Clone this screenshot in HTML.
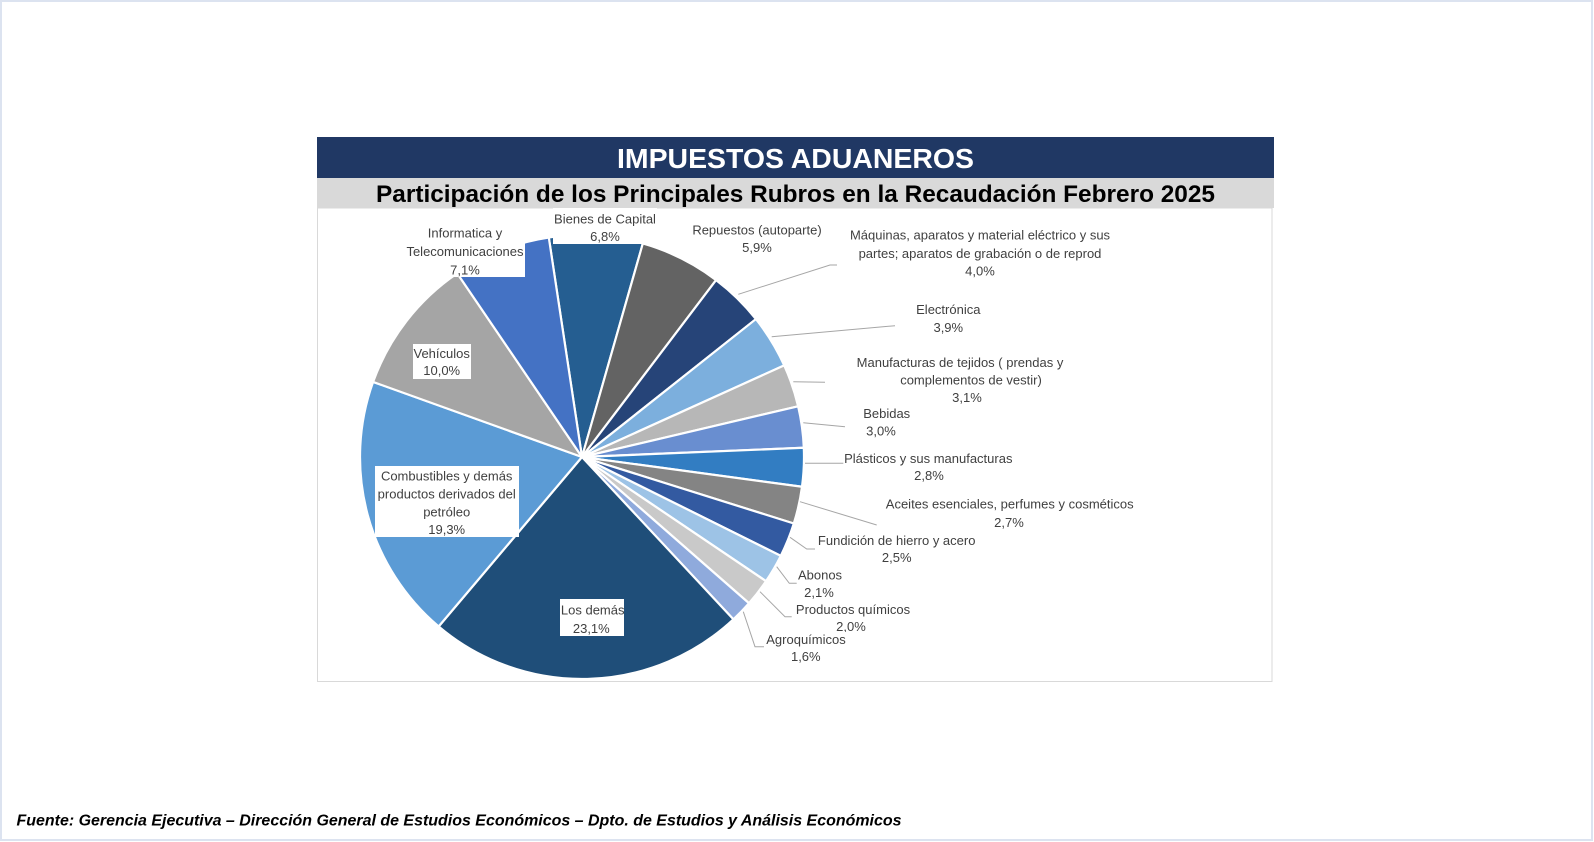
<!DOCTYPE html>
<html>
<head>
<meta charset="utf-8">
<style>
  html, body { margin:0; padding:0; background:#ffffff; }
  body { width:1594px; height:842px; overflow:hidden; }
  svg { display:block; }
  .lbl { font-family:"Liberation Sans", Arial, sans-serif; font-size:13px; fill:#404040; text-anchor:middle; }
</style>
</head>
<body>
<svg width="1594" height="842" viewBox="0 0 1594 842" xmlns="http://www.w3.org/2000/svg">
  <!-- page border -->
  <rect x="1" y="1" width="1591" height="839" fill="#ffffff" stroke="#dce3f0" stroke-width="2"/>

  <!-- header bars -->
  <rect x="317" y="137" width="957" height="41" fill="#203864"/>
  <rect x="317" y="178" width="957" height="30" fill="#d9d9d9"/>
  <text x="795.5" y="168" text-anchor="middle" font-family="'Liberation Sans', Arial, sans-serif" font-weight="bold" font-size="28" fill="#ffffff" textLength="357" lengthAdjust="spacingAndGlyphs">IMPUESTOS ADUANEROS</text>
  <text x="795.5" y="202" text-anchor="middle" font-family="'Liberation Sans', Arial, sans-serif" font-weight="bold" font-size="24" fill="#000000" textLength="839" lengthAdjust="spacingAndGlyphs">Participación de los Principales Rubros en la Recaudación Febrero 2025</text>

  <!-- chart area -->
  <rect x="317.5" y="208" width="954.5" height="473.5" fill="#ffffff" stroke="#d9d9d9" stroke-width="1"/>

  <!-- pie slices: center (582,457) r=222 -->
  <g stroke="#ffffff" stroke-width="2.2" stroke-linejoin="round">
    <path d="M582 457 L548.80 237.50 A222 222 0 0 1 642.82 243.49 Z" fill="#255e91"/>
    <path d="M582 457 L642.82 243.49 A222 222 0 0 1 716.09 280.07 Z" fill="#636363"/>
    <path d="M582 457 L716.09 280.07 A222 222 0 0 1 755.94 319.05 Z" fill="#264478"/>
    <path d="M582 457 L755.94 319.05 A222 222 0 0 1 784.22 365.39 Z" fill="#7cafdd"/>
    <path d="M582 457 L784.22 365.39 A222 222 0 0 1 798.13 406.31 Z" fill="#b7b7b7"/>
    <path d="M582 457 L798.13 406.31 A222 222 0 0 1 803.81 447.74 Z" fill="#698ed0"/>
    <path d="M582 457 L803.81 447.74 A222 222 0 0 1 802.00 486.75 Z" fill="#327dc2"/>
    <path d="M582 457 L802.00 486.75 A222 222 0 0 1 793.81 523.50 Z" fill="#848484"/>
    <path d="M582 457 L793.81 523.50 A222 222 0 0 1 780.79 555.84 Z" fill="#335aa1"/>
    <path d="M582 457 L780.79 555.84 A222 222 0 0 1 766.03 581.16 Z" fill="#9dc3e6"/>
    <path d="M582 457 L766.03 581.16 A222 222 0 0 1 749.02 603.25 Z" fill="#c9c9c9"/>
    <path d="M582 457 L749.02 603.25 A222 222 0 0 1 733.44 619.32 Z" fill="#8faadc"/>
    <path d="M582 457 L733.44 619.32 A222 222 0 0 1 438.64 626.51 Z" fill="#1f4e79"/>
    <path d="M582 457 L438.64 626.51 A222 222 0 0 1 373.09 381.91 Z" fill="#5b9bd5"/>
    <path d="M582 457 L373.09 381.91 A222 222 0 0 1 457.24 273.37 Z" fill="#a5a5a5"/>
    <path d="M582 457 L457.24 273.37 A222 222 0 0 1 548.80 237.50 Z" fill="#4472c4"/>
  </g>

  <!-- leader lines -->
  <g fill="none" stroke="#a6a6a6" stroke-width="1">
    <polyline points="738.3,294.3 830,265 837,265"/>
    <polyline points="771.7,336.7 895,325.7"/>
    <polyline points="793.3,381.7 825,382.3"/>
    <polyline points="803.3,422.7 845,426.7"/>
    <polyline points="805,463.3 843.3,463.3"/>
    <polyline points="800,501.7 876.7,525"/>
    <polyline points="790,537.3 806.7,549 815,549"/>
    <polyline points="776.7,566.7 789.3,583.3 796.7,583.3"/>
    <polyline points="760,591.7 785,616.7 791.7,616.7"/>
    <polyline points="743.3,611.7 755,646.7 765,646.7"/>
  </g>

  <!-- label boxes over pie -->
  <rect x="553" y="208" width="104" height="36" fill="#ffffff"/>
  <rect x="405" y="222" width="120" height="55" fill="#ffffff"/>
  <rect x="413" y="344" width="58" height="35" fill="#ffffff"/>
  <rect x="375" y="466" width="144" height="71" fill="#ffffff"/>
  <rect x="560" y="599" width="64" height="37" fill="#ffffff"/>

  <!-- labels -->
  <text class="lbl" x="605" y="223.5">Bienes de Capital</text>
  <text class="lbl" x="605" y="241.2">6,8%</text>

  <text class="lbl" x="757" y="234.5">Repuestos (autoparte)</text>
  <text class="lbl" x="757" y="252.2">5,9%</text>

  <text class="lbl" x="980" y="239.5">Máquinas, aparatos y material eléctrico y sus</text>
  <text class="lbl" x="980" y="257.8">partes; aparatos de grabación o de reprod</text>
  <text class="lbl" x="980" y="275.5">4,0%</text>

  <text class="lbl" x="948.3" y="313.8">Electrónica</text>
  <text class="lbl" x="948.3" y="331.8">3,9%</text>

  <text class="lbl" x="960" y="367.2">Manufacturas de tejidos ( prendas y</text>
  <text class="lbl" x="971" y="384.5">complementos de vestir)</text>
  <text class="lbl" x="967" y="401.8">3,1%</text>

  <text class="lbl" x="886.7" y="417.8">Bebidas</text>
  <text class="lbl" x="881" y="435.5">3,0%</text>

  <text class="lbl" x="928.3" y="462.8">Plásticos y sus manufacturas</text>
  <text class="lbl" x="929" y="480.2">2,8%</text>

  <text class="lbl" x="1009.7" y="508.5">Aceites esenciales, perfumes y cosméticos</text>
  <text class="lbl" x="1009" y="526.8">2,7%</text>

  <text class="lbl" x="896.7" y="545.2">Fundición de hierro y acero</text>
  <text class="lbl" x="896.7" y="562.2">2,5%</text>

  <text class="lbl" x="820" y="579.5">Abonos</text>
  <text class="lbl" x="819" y="596.8">2,1%</text>

  <text class="lbl" x="853" y="613.8">Productos químicos</text>
  <text class="lbl" x="851" y="631.2">2,0%</text>

  <rect x="764" y="632" width="84" height="32" fill="#ffffff"/>
  <text class="lbl" x="806" y="643.8">Agroquímicos</text>
  <text class="lbl" x="805.8" y="661.2">1,6%</text>

  <text class="lbl" x="592.7" y="614.5">Los demás</text>
  <text class="lbl" x="591.3" y="632.8">23,1%</text>

  <text class="lbl" x="446.7" y="480.5">Combustibles y demás</text>
  <text class="lbl" x="446.7" y="498.5">productos derivados del</text>
  <text class="lbl" x="446.7" y="516.5">petróleo</text>
  <text class="lbl" x="446.7" y="533.8">19,3%</text>

  <text class="lbl" x="441.7" y="357.8">Vehículos</text>
  <text class="lbl" x="441.7" y="375.2">10,0%</text>

  <text class="lbl" x="465" y="237.5">Informatica y</text>
  <text class="lbl" x="465" y="256.2">Telecomunicaciones</text>
  <text class="lbl" x="465" y="274.5">7,1%</text>

  <!-- footer -->
  <text x="16.5" y="825.5" font-family="'Liberation Sans', Arial, sans-serif" font-weight="bold" font-style="italic" font-size="16" fill="#000000" textLength="885" lengthAdjust="spacingAndGlyphs">Fuente: Gerencia Ejecutiva – Dirección General de Estudios Económicos – Dpto. de Estudios y Análisis Económicos</text>
</svg>
</body>
</html>
